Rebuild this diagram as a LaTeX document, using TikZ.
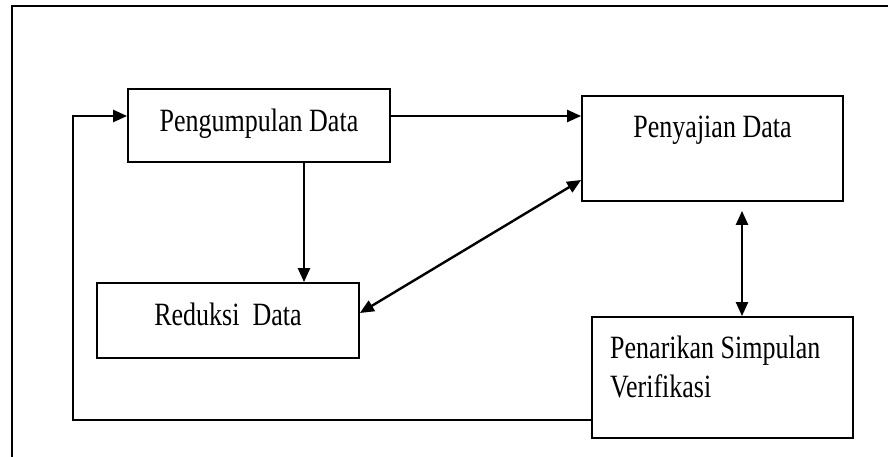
\documentclass[tikz,border=0pt]{standalone}
\usepackage{fontspec}
\setmainfont{Liberation Serif}
\usepackage{graphicx}
\usetikzlibrary{arrows.meta}

\newcommand{\tinggi}[1]{\scalebox{1}[1.25]{#1}}

\begin{document}
\begin{tikzpicture}[x=1pt,y=-1pt,
    kotak/.style={draw,line width=1.8pt,inner sep=0pt},
    teks/.style={anchor=base,inner sep=0pt,font=\fontsize{26}{31.2}\selectfont},
    panah/.style={line width=2.4pt,-{Triangle[length=14pt,width=12pt]}},
    panahdua/.style={line width=2.4pt,{Triangle[length=14pt,width=12pt]}-{Triangle[length=14pt,width=12pt]}}]
    \useasboundingbox (0,0) rectangle (888,457);
    \draw[line width=1.8pt] (12,457) -- (12,6) -- (888,6);

    \node[kotak,minimum width=262pt,minimum height=73pt] (kumpul) at (259,125.5) {};
    \node[kotak,minimum width=261pt,minimum height=105pt] (saji) at (712.5,148.5) {};
    \node[kotak,minimum width=262pt,minimum height=75pt] (reduksi) at (228,320.5) {};
    \node[kotak,minimum width=261pt,minimum height=121pt] (simpul) at (722.5,377.5) {};

    \node[teks] (tkumpul) at (259,132) {\tinggi{Pengumpulan Data}};
    \node[teks] (tsaji) at (712.5,138) {\tinggi{Penyajian Data}};
    \node[teks] (treduksi) at (228,325) {\tinggi{Reduksi\ \ Data}};
    \node[teks,anchor=base west] (tsimpul) at (610,358)
        {\tinggi{\begin{tabular}[t]{@{}l@{}}Penarikan Simpulan\\Verifikasi\end{tabular}}};

    \coordinate (balik) at (73,420);

    \draw[panah] ([yshift=9.5pt]kumpul.east) -- ([yshift=9.5pt]kumpul.east -| saji.west);
    \draw[panah] ([xshift=45pt]kumpul.south) -- ([xshift=45pt]kumpul.south |- reduksi.north);
    \draw[panahdua] ([yshift=7.5pt]reduksi.east) -- ([yshift=-31.5pt]saji.west);
    \draw[panahdua] ([xshift=29.5pt,yshift=-9pt]saji.south) -- ([xshift=29.5pt]saji.south |- simpul.north);
    \draw[panah] ([yshift=-42.5pt]simpul.west) -- (balik) |- ([yshift=9.5pt]kumpul.west);
\end{tikzpicture}
\end{document}
